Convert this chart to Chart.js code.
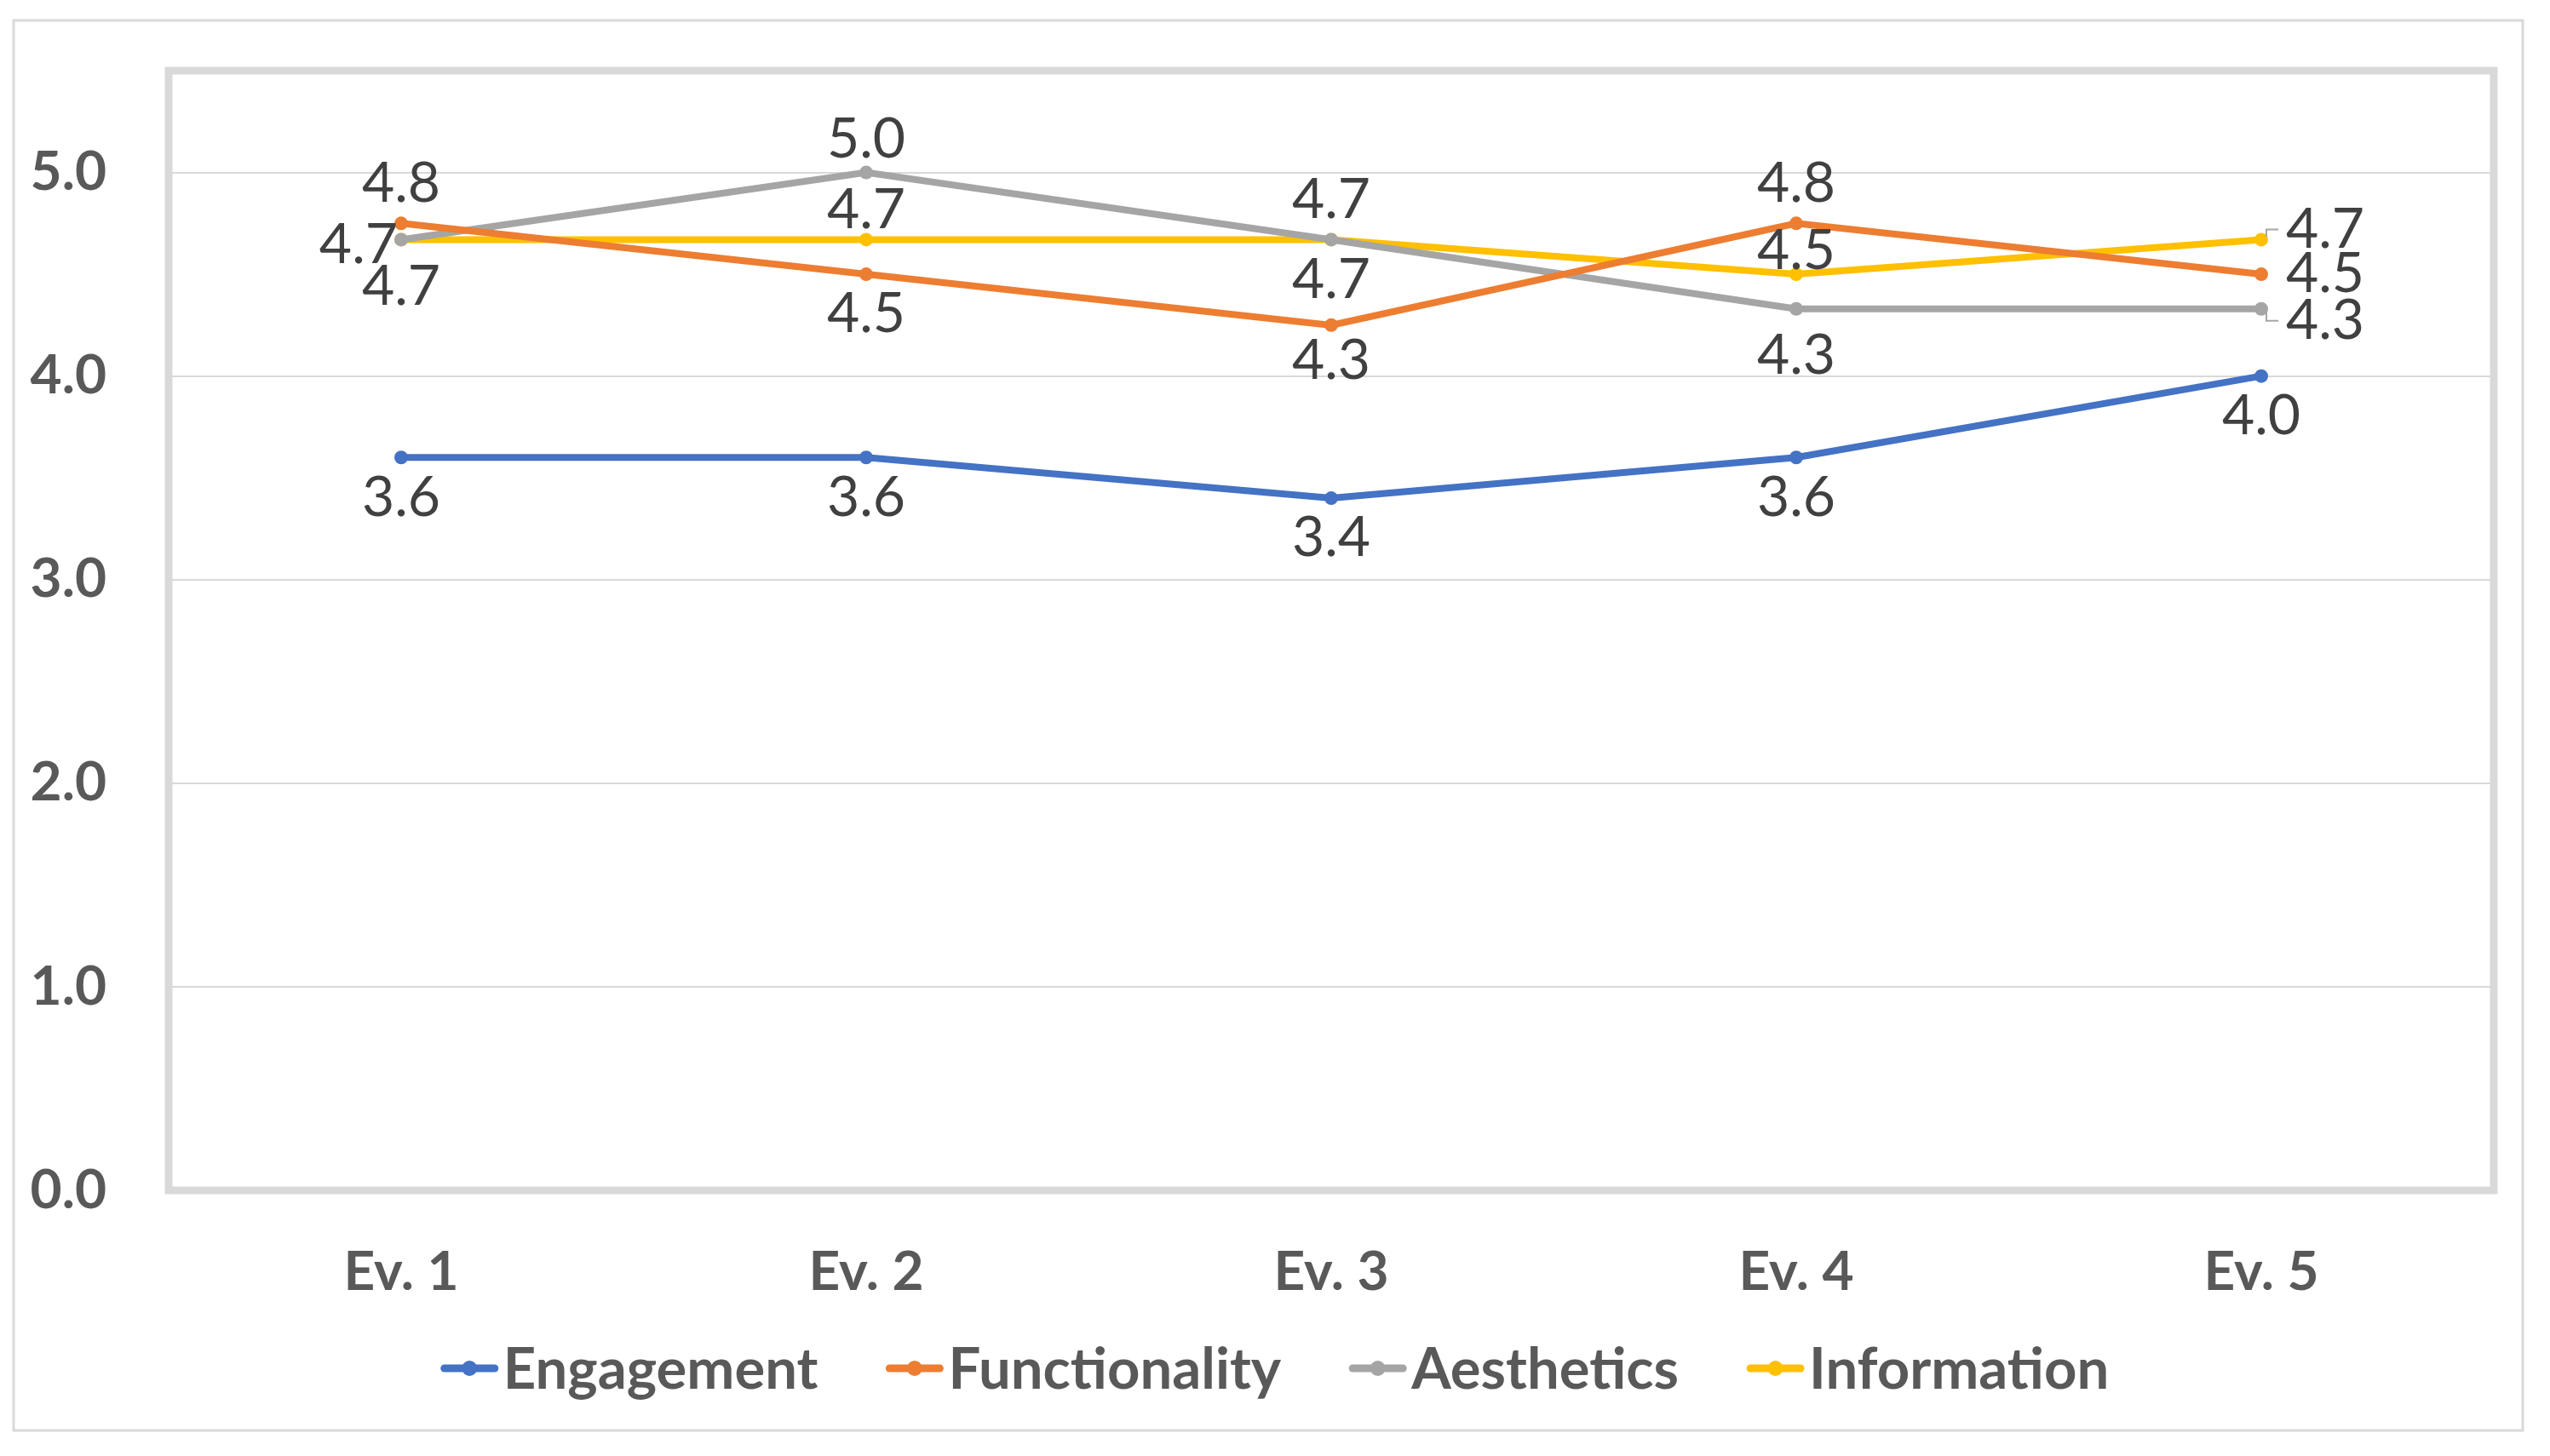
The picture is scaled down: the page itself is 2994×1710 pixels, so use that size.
<!DOCTYPE html>
<html><head><meta charset="utf-8">
<script src="https://cdn.jsdelivr.net/npm/chart.js@4.4.0/dist/chart.umd.min.js"></script>
<style>html,body{margin:0;padding:0;background:#fff;} #wrap{width:2994px;height:1710px;position:relative;}</style>
</head><body><div id="wrap"><canvas id="c" width="2994" height="1710"></canvas></div>
<script>
// ---- data ----
const categories = ['Ev. 1', 'Ev. 2', 'Ev. 3', 'Ev. 4', 'Ev. 5'];
const seriesNames = ['Engagement', 'Functionality', 'Aesthetics', 'Information'];
const engagement = [3.6, 3.6, 3.4, 3.6, 4.0];
const functionality = [4.75, 4.5, 4.25, 4.75, 4.5];
const aesthetics = [4.67, 5.0, 4.67, 4.33, 4.33];
const information = [4.67, 4.67, 4.67, 4.5, 4.67];
const yMin = 0, yMax = 5.5, yStep = 1;

// ---- style ----
const colors = ['#4472C4', '#ED7D31', '#A5A5A5', '#FFC000'];
const labelPlacement = [
  ['below', 'below', 'below', 'below', 'below'],
  ['above', 'below', 'below', 'above', 'right'],
  ['left', 'above', 'above', 'below', 'right'],
  ['below', 'above', 'below', 'above', 'right']
];
const labelNudge = [
  [0, 0, 0, 0, 0],
  [0, 0, -5, 0, 0],
  [0, 8, 0, 8, 14],
  [8, 12, 0, 20, -12]
];
const FONT = 'Lato, "Open Sans", sans-serif';
const axisColor = '#595959';
const labelColor = '#404040';
const lineColor = '#D9D9D9';

const values = [engagement, functionality, aesthetics, information];

const frame = {
  id: 'frame',
  beforeDraw(chart) {
    const ctx = chart.ctx;
    ctx.save();
    ctx.fillStyle = '#fff';
    ctx.fillRect(0, 0, chart.width, chart.height);
    ctx.strokeStyle = lineColor;
    ctx.lineWidth = 3;
    ctx.strokeRect(16, 24, 2946, 1656);
    ctx.restore();
  },
  beforeDatasetsDraw(chart) {
    const a = chart.chartArea, ctx = chart.ctx;
    ctx.save();
    ctx.strokeStyle = lineColor;
    ctx.lineWidth = 9;
    ctx.strokeRect(a.left, a.top, a.right - a.left, a.bottom - a.top);
    ctx.restore();
  }
};

const dataLabels = {
  id: 'dataLabels',
  afterDatasetsDraw(chart) {
    const ctx = chart.ctx;
    ctx.save();
    ctx.font = '66px ' + FONT;
    ctx.textBaseline = 'middle';
    chart.data.datasets.forEach((ds, di) => {
      const meta = chart.getDatasetMeta(di);
      meta.data.forEach((pt, i) => {
        const txt = ds.data[i].toFixed(1);
        const pos = labelPlacement[di][i];
        const dy = labelNudge[di][i];
        let x = pt.x, y = pt.y;
        if (pos === 'above') { ctx.textAlign = 'center'; y -= 47; }
        else if (pos === 'below') { ctx.textAlign = 'center'; y += 47; }
        else if (pos === 'left') { ctx.textAlign = 'right'; x -= 4; y += 6; }
        else {
          ctx.textAlign = 'left'; x += 29;
          if (dy !== 0) {
            ctx.strokeStyle = '#A6A6A6';
            ctx.lineWidth = 2;
            ctx.beginPath();
            ctx.moveTo(pt.x + 6, pt.y + Math.sign(dy) * 3);
            ctx.lineTo(pt.x + 6, pt.y + dy);
            ctx.lineTo(pt.x + 20, pt.y + dy);
            ctx.stroke();
          }
        }
        ctx.fillStyle = labelColor;
        ctx.fillText(txt, x, y + dy);
      });
    });
    ctx.restore();
  }
};

const legendPlugin = {
  id: 'customLegend',
  afterDraw(chart) {
    const ctx = chart.ctx;
    ctx.save();
    ctx.font = 'bold 67px ' + FONT;
    ctx.textBaseline = 'middle';
    ctx.textAlign = 'left';
    const lineLen = 67, gap = 6, itemGap = 80, cy = 1607;
    const items = chart.data.datasets.map(ds => ({
      label: ds.label, color: ds.borderColor, w: ctx.measureText(ds.label).width
    }));
    const total = items.reduce((s, it) => s + lineLen + gap + it.w, 0) + itemGap * (items.length - 1);
    let x = (chart.width - total) / 2;
    items.forEach(it => {
      ctx.strokeStyle = it.color;
      ctx.lineWidth = 9;
      ctx.lineCap = 'round';
      ctx.beginPath(); ctx.moveTo(x + 4, cy); ctx.lineTo(x + lineLen - 4, cy); ctx.stroke();
      ctx.fillStyle = it.color;
      ctx.beginPath(); ctx.arc(x + lineLen / 2, cy, 9, 0, Math.PI * 2); ctx.fill();
      ctx.fillStyle = axisColor;
      ctx.fillText(it.label, x + lineLen + gap, cy + 2);
      x += lineLen + gap + it.w + itemGap;
    });
    ctx.restore();
  }
};

new Chart(document.getElementById('c'), {
  type: 'line',
  data: {
    labels: categories,
    datasets: seriesNames.map((name, i) => ({
      label: name,
      data: values[i],
      borderColor: colors[i],
      backgroundColor: colors[i],
      pointBackgroundColor: colors[i],
      pointBorderWidth: 0,
      pointRadius: 8,
      borderWidth: 8,
      tension: 0,
      fill: false
    }))
  },
  options: {
    responsive: false,
    devicePixelRatio: 1,
    animation: false,
    layout: { padding: { top: 83, right: 66, left: 0, bottom: 0 } },
    plugins: { legend: { display: false }, tooltip: { enabled: false } },
    scales: {
      x: {
        offset: true,
        grid: { display: false },
        border: { display: false },
        ticks: { font: { family: FONT, size: 64, weight: 'bold' }, color: axisColor, padding: 50 },
        afterFit(s) { s.height = 312; s.paddingLeft = 0; s.paddingRight = 0; }
      },
      y: {
        min: yMin, max: yMax,
        border: { display: false },
        grid: { color: lineColor, lineWidth: 2, drawTicks: false },
        ticks: {
          stepSize: yStep, includeBounds: false,
          font: { family: FONT, size: 64, weight: 'bold' }, color: axisColor, padding: 73,
          callback: v => Number(v).toFixed(1)
        },
        afterFit(s) { s.width = 198; s.paddingTop = 0; s.paddingBottom = 0; }
      }
    }
  },
  plugins: [frame, dataLabels, legendPlugin]
});
</script>
</body></html>
